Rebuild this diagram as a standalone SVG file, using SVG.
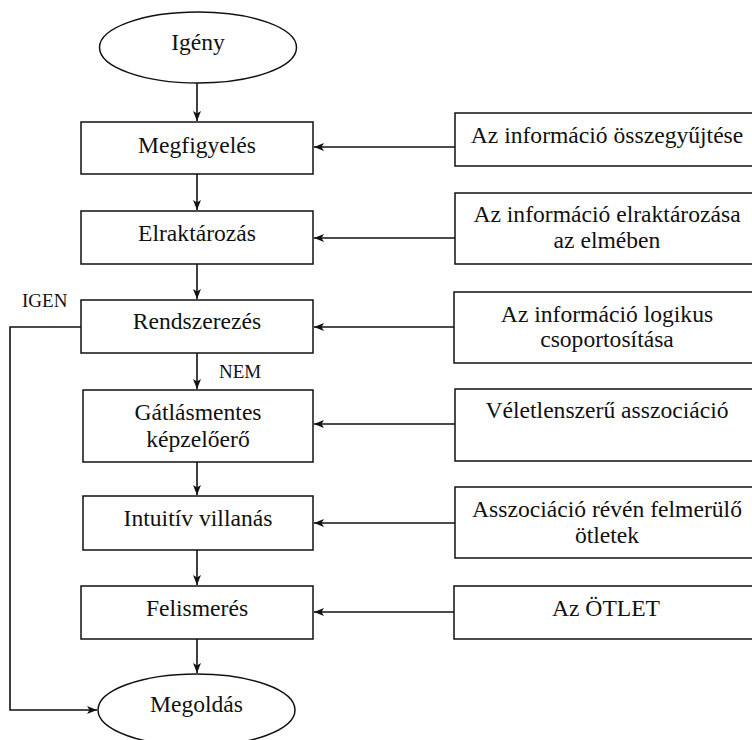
<svg xmlns="http://www.w3.org/2000/svg" width="752" height="740" viewBox="0 0 752 740">
<style>
.box{fill:#fff;stroke:#111;stroke-width:1.5}
.t{font-family:'Liberation Serif','Times New Roman',serif;font-size:23.6px;fill:#111;text-anchor:middle}
.lbl{font-family:'Liberation Serif','Times New Roman',serif;font-size:19px;fill:#111}
.c{fill:none;stroke:#111;stroke-width:1.6}
</style>
<defs>
<marker id="ah" markerUnits="userSpaceOnUse" markerWidth="12" markerHeight="10" refX="10" refY="4" orient="auto">
<path d="M0,0 L10,4 L0,8 L2.5,4 z" fill="#111"/>
</marker>
</defs>
<rect width="752" height="740" fill="#fff"/>
<g id="connectors">
<line class="c" x1="197" y1="83" x2="197" y2="121" marker-end="url(#ah)"/>
<line class="c" x1="197" y1="174" x2="197" y2="210" marker-end="url(#ah)"/>
<line class="c" x1="197" y1="264" x2="197" y2="299" marker-end="url(#ah)"/>
<line class="c" x1="197" y1="353" x2="197" y2="389" marker-end="url(#ah)"/>
<line class="c" x1="197" y1="462" x2="197" y2="495" marker-end="url(#ah)"/>
<line class="c" x1="197" y1="550" x2="197" y2="585" marker-end="url(#ah)"/>
<line class="c" x1="197" y1="639" x2="197" y2="673" marker-end="url(#ah)"/>
<line class="c" x1="455" y1="147" x2="314" y2="147" marker-end="url(#ah)"/>
<line class="c" x1="455" y1="238" x2="314" y2="238" marker-end="url(#ah)"/>
<line class="c" x1="455" y1="327" x2="314" y2="327" marker-end="url(#ah)"/>
<line class="c" x1="455" y1="424" x2="314" y2="424" marker-end="url(#ah)"/>
<line class="c" x1="455" y1="523" x2="314" y2="523" marker-end="url(#ah)"/>
<line class="c" x1="455" y1="612" x2="314" y2="612" marker-end="url(#ah)"/>
<polyline class="c" points="81,327 10,327 10,710 97,710" marker-end="url(#ah)"/>
<text class="lbl" x="22" y="307">IGEN</text>
<text class="lbl" x="219" y="378">NEM</text>
</g>
<g id="igeny">
<ellipse class="box" cx="198" cy="47.5" rx="98.5" ry="35.5"/>
<text class="t" x="198" y="50">Igény</text>
</g>
<g id="megfigyeles">
<rect class="box" x="81" y="122" width="232" height="52"/>
<text class="t" x="197" y="153">Megfigyelés</text>
</g>
<g id="elraktarozas">
<rect class="box" x="81" y="211" width="232" height="53"/>
<text class="t" x="197" y="241">Elraktározás</text>
</g>
<g id="rendszerezes">
<rect class="box" x="81" y="300" width="232" height="53"/>
<text class="t" x="197" y="329">Rendszerezés</text>
</g>
<g id="gatlasmentes">
<rect class="box" x="83" y="390" width="230" height="72"/>
<text class="t" x="198" y="420">Gátlásmentes</text>
<text class="t" x="198" y="447">képzelőerő</text>
</g>
<g id="intuitiv">
<rect class="box" x="83" y="496" width="230" height="54"/>
<text class="t" x="198" y="526">Intuitív villanás</text>
</g>
<g id="felismeres">
<rect class="box" x="81" y="586" width="232" height="53"/>
<text class="t" x="197" y="616">Felismerés</text>
</g>
<g id="megoldas">
<ellipse class="box" cx="196.5" cy="710" rx="98.5" ry="36"/>
<text class="t" x="196.5" y="712">Megoldás</text>
</g>
<g id="r1">
<rect class="box" x="455" y="113" width="310" height="53"/>
<text class="t" x="607" y="143">Az információ összegyűjtése</text>
</g>
<g id="r2">
<rect class="box" x="455" y="193" width="310" height="71"/>
<text class="t" x="607" y="222">Az információ elraktározása</text>
<text class="t" x="607" y="248">az elmében</text>
</g>
<g id="r3">
<rect class="box" x="454" y="292" width="311" height="71"/>
<text class="t" x="607" y="322">Az információ logikus</text>
<text class="t" x="607" y="347">csoportosítása</text>
</g>
<g id="r4">
<rect class="box" x="455" y="389" width="310" height="72"/>
<text class="t" x="607" y="418">Véletlenszerű asszociáció</text>
</g>
<g id="r5">
<rect class="box" x="455" y="487" width="310" height="71"/>
<text class="t" x="607" y="517">Asszociáció révén felmerülő</text>
<text class="t" x="607" y="543">ötletek</text>
</g>
<g id="r6">
<rect class="box" x="454" y="586" width="311" height="53"/>
<text class="t" x="606" y="616">Az ÖTLET</text>
</g>
</svg>
